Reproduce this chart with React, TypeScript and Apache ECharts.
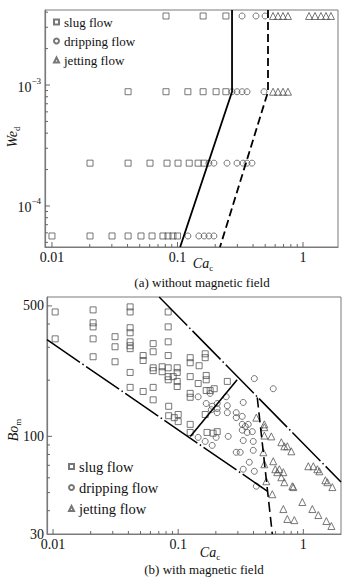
import React, { useEffect, useRef } from 'react';
import * as echarts from 'echarts';

const SERIF = '"Liberation Serif", "Times New Roman", serif';
const MARK = '#555';
const AXIS = '#7a7a7a';

// ---------------- panel (a): without magnetic field ----------------
const aCaRange = [0.0088, 1.9];
const aWeRange = [4.58e-5, 4.17e-3];
const aWeRows = [3.72e-3, 8.8e-4, 2.26e-4, 5.65e-5];
const aSlugCa = [
  [0.081, 0.16, 0.243],
  [0.0404, 0.081, 0.121, 0.16, 0.203, 0.243],
  [0.0201, 0.0404, 0.0604, 0.0825, 0.101, 0.124, 0.146, 0.163],
  [0.01, 0.0201, 0.0301, 0.0404, 0.0512, 0.0627, 0.0766, 0.084, 0.092, 0.1],
];
const aDripCa = [
  [0.327, 0.422, 0.498],
  [0.272, 0.298, 0.327, 0.358, 0.489],
  [0.178, 0.195, 0.248, 0.298, 0.333, 0.358, 0.392],
  [0.121, 0.148, 0.163, 0.178, 0.195],
];
const aJetCa = [
  [0.577, 0.632, 0.693, 0.759, 1.117, 1.246, 1.39, 1.525, 1.67],
  [0.577, 0.632, 0.693, 0.759],
  [],
  [],
];
const aSolid = [[0.272, 4.17e-3], [0.272, 8.8e-4], [0.105, 4.58e-5]];
const aDashed = [[0.526, 4.17e-3], [0.526, 8.8e-4], [0.218, 4.58e-5]];

// ---------------- panel (b): with magnetic field ----------------
const bCaRange = [0.00895, 2.0];
const bBoRange = [30, 558];
const bSlug = [
  [0.0104, 464], [0.0104, 333],
  [0.0209, 476], [0.0209, 406], [0.0209, 386], [0.0209, 333], [0.0209, 267],
  [0.0313, 342], [0.0313, 302], [0.0313, 251],
  [0.0413, 494], [0.0413, 464], [0.0413, 382], [0.0413, 359], [0.0413, 321], [0.0413, 306], [0.0413, 295], [0.0413, 220], [0.0413, 183],
  [0.0525, 271], [0.0525, 255], [0.0525, 174],
  [0.0631, 314], [0.0631, 284], [0.0631, 233], [0.0631, 225], [0.0631, 183], [0.0631, 157],
  [0.0745, 236], [0.0745, 222],
  [0.0832, 464], [0.0832, 386], [0.0832, 321], [0.0832, 271], [0.0832, 233], [0.0832, 209], [0.0832, 201],
  [0.0912, 209],
  [0.0982, 233], [0.0982, 220], [0.0982, 197], [0.0982, 185],
  [0.084, 145], [0.084, 129], [0.093, 126], [0.1, 131], [0.1, 120],
  [0.1247, 264], [0.1247, 248], [0.1247, 209], [0.1247, 170], [0.1247, 162], [0.1247, 116], [0.1247, 105],
  [0.147, 239], [0.1445, 192],
  [0.1644, 277], [0.1644, 264], [0.1675, 212], [0.1675, 201], [0.1675, 176], [0.18, 176], [0.194, 180], [0.1644, 131],
  [0.247, 197],
  [0.17, 105], [0.19, 104], [0.205, 106],
];
const bDrip = [
  [0.406, 204], [0.575, 180], [0.331, 152], [0.242, 163], [0.18, 170], [0.1445, 163], [0.1675, 150], [0.187, 145],
  [0.205, 150], [0.205, 141], [0.205, 134], [0.184, 139],
  [0.247, 146], [0.247, 134], [0.291, 134], [0.291, 126], [0.325, 128],
  [0.325, 116], [0.344, 113], [0.363, 116], [0.325, 108], [0.356, 105], [0.391, 106],
  [0.1445, 98.8], [0.1644, 94], [0.187, 89.5], [0.201, 98.8], [0.251, 100],
  [0.331, 95], [0.398, 94], [0.291, 82.2], [0.313, 82.2], [0.398, 84.2], [0.37, 72.7], [0.331, 66.7], [0.406, 65], [0.421, 54.1],
];
const bJet = [
  [0.421, 126], [0.488, 116], [0.488, 112], [0.488, 101], [0.555, 100], [0.479, 82.2], [0.488, 70.9], [0.506, 57.5], [0.565, 49],
  [0.575, 73.6], [0.597, 66.7], [0.643, 66.7], [0.619, 64.3], [0.692, 64.3],
  [0.667, 93], [0.705, 88.5], [0.745, 88.5], [0.802, 83.2],
  [0.667, 60.4], [0.705, 56.8], [0.817, 54.1], [0.832, 53.5],
  [0.692, 40.8], [0.745, 36.1], [0.847, 35.6], [0.982, 44.5], [1.18, 40.8], [1.318, 37.9], [1.528, 35.2], [1.675, 33.1],
  [1.096, 69.2], [1.202, 69.2], [1.294, 66.7], [1.343, 65], [1.5, 58.2], [1.556, 56.8], [1.706, 53.5],
];
const bUpperChain = [[0.0705, 558], [2.0, 57]];
const bLowerChain = [[0.00895, 330], [0.515, 50.9]];
const bMiddleSolid = [[0.125, 100], [0.296, 201]];
const bDashed = [[0.4285, 161.5], [0.565, 30]];

// ---------------- ticks ----------------
const caMajor = [0.01, 0.1, 1];
const caMinor = [0.02, 0.03, 0.04, 0.05, 0.06, 0.07, 0.08, 0.09, 0.2, 0.3, 0.4, 0.5, 0.6, 0.7, 0.8, 0.9];
const weMajor = [1e-4, 1e-3];
const weMinor = [5e-5, 6e-5, 7e-5, 8e-5, 9e-5, 2e-4, 3e-4, 4e-4, 5e-4, 6e-4, 7e-4, 8e-4, 9e-4, 2e-3, 3e-3, 4e-3];
const boMajor = [100, 500];
const boMinor = [40, 50, 60, 70, 80, 90, 200, 300, 400];
const boExtraLabels = [500];

const legendNames = ['slug flow', 'dripping flow', 'jetting flow'];

const rowsToPairs = (rows: number[][]) =>
  rows.flatMap((r, i) => r.map((ca) => [ca, aWeRows[i]]));

const powExp = (v: number) => {
  const l = Math.log10(v);
  const e = Math.round(l);
  return Math.abs(l - e) < 1e-6 ? e : null;
};

const markerStyle = { color: 'rgba(0,0,0,0)', borderColor: MARK, borderWidth: 1 };

function scatter(name: string, idx: number, data: number[][], symbol: string, size: number) {
  return {
    type: 'scatter', name, xAxisIndex: idx, yAxisIndex: idx, data, symbol, symbolSize: size,
    itemStyle: markerStyle, silent: true, z: 3,
  };
}

function line(idx: number, data: number[][], type: any, width = 1.6) {
  return {
    type: 'line', xAxisIndex: idx, yAxisIndex: idx, data, symbol: 'none', silent: true,
    lineStyle: { color: '#000', width, type }, z: 4, clip: true,
  };
}

function ticks(idx: number, dir: 'x' | 'y', vals: number[], other: number, len: number) {
  return {
    type: 'custom', xAxisIndex: idx, yAxisIndex: idx, silent: true, z: 5,
    data: vals.map((v) => (dir === 'x' ? [v, other] : [other, v])),
    renderItem: (params: any, api: any) => {
      const cs = params.coordSys;
      const p = api.coord([api.value(0), api.value(1)]);
      const shape = dir === 'x'
        ? { x1: p[0], y1: cs.y + cs.height, x2: p[0], y2: cs.y + cs.height - len }
        : { x1: cs.x, y1: p[1], x2: cs.x + len, y2: p[1] };
      return { type: 'line', shape, style: { stroke: '#666', lineWidth: 1 } };
    },
  };
}

const labelBase = { fontFamily: SERIF, fontSize: 14, color: '#111' };

const subRich = {
  i: { fontFamily: SERIF, fontStyle: 'italic', fontSize: 14, lineHeight: 16, verticalAlign: 'top', fill: '#111' },
  s: { fontFamily: SERIF, fontSize: 9, lineHeight: 9, verticalAlign: 'bottom', fill: '#111' },
};

function App() {
  const ref = useRef<HTMLDivElement>(null);
  useEffect(() => {
    if (!ref.current) return;
    const chart = echarts.init(ref.current, undefined, { renderer: 'svg' });
    const caFmt = (v: number) => (powExp(v) !== null ? String(+v.toPrecision(1)) : '');
    const weFmt = (v: number) => {
      const e = powExp(v);
      return e === null ? '' : `{b|10}{s|${e < 0 ? '−' : ''}${Math.abs(e)}}`;
    };
    const boFmt = (v: number) => (powExp(v) !== null || Math.abs(v - bBoRange[0]) < 1e-6 ? String(Math.round(v)) : '');
    const xAxisCommon = {
      type: 'log', logBase: 10,
      axisLine: { show: true, lineStyle: { color: AXIS, width: 1.2 } },
      axisTick: { show: false }, splitLine: { show: false },
    };
    const option: any = {
      animation: false,
      backgroundColor: '#fff',
      grid: [
        { left: 45, top: 10, width: 293, height: 237, show: true, borderColor: AXIS, borderWidth: 1, backgroundColor: 'transparent' },
        { left: 47, top: 297, width: 294, height: 237, show: true, borderColor: AXIS, borderWidth: 1, backgroundColor: 'transparent' },
      ],
      xAxis: [
        { ...xAxisCommon, gridIndex: 0, min: aCaRange[0], max: aCaRange[1],
          axisLabel: { ...labelBase, margin: 3, formatter: caFmt, showMinLabel: false, showMaxLabel: false } },
        { ...xAxisCommon, gridIndex: 1, min: bCaRange[0], max: bCaRange[1],
          axisLabel: { ...labelBase, margin: 3, formatter: caFmt, showMinLabel: false, showMaxLabel: false } },
      ],
      yAxis: [
        { ...xAxisCommon, gridIndex: 0, min: aWeRange[0], max: aWeRange[1],
          axisLabel: { ...labelBase, margin: 4, formatter: weFmt, showMinLabel: false, showMaxLabel: false,
            rich: {
              b: { fontFamily: SERIF, fontSize: 14, color: '#111', lineHeight: 18, verticalAlign: 'bottom' },
              s: { fontFamily: SERIF, fontSize: 9, color: '#111', lineHeight: 10, verticalAlign: 'top' },
            } } },
        { ...xAxisCommon, gridIndex: 1, min: bBoRange[0], max: bBoRange[1],
          axisLabel: { ...labelBase, margin: 3, formatter: boFmt, showMinLabel: true, showMaxLabel: false } },
      ],
      legend: [
        { orient: 'vertical', left: 53, top: 15, padding: 0, itemWidth: 5, itemHeight: 5, itemGap: 5,
          selectedMode: false, data: legendNames,
          textStyle: { fontFamily: SERIF, fontSize: 13, color: '#111', lineHeight: 14 } },
        { orient: 'vertical', left: 68, top: 459, padding: 0, itemWidth: 5, itemHeight: 5, itemGap: 6,
          selectedMode: false, data: legendNames,
          textStyle: { fontFamily: SERIF, fontSize: 14.5, color: '#111', lineHeight: 15 } },
      ],
      graphic: [
        { type: 'text', x: 13, y: 137, rotation: Math.PI / 2,
          style: { text: '{i|We}{s|d}', align: 'center', verticalAlign: 'middle', rich: subRich } },
        { type: 'text', x: 203, y: 264,
          style: { text: '{i|Ca}{s|c}', align: 'center', verticalAlign: 'middle', rich: subRich } },
        { type: 'text', x: 202, y: 282,
          style: { text: '(a) without magnetic field', align: 'center', verticalAlign: 'middle', fontFamily: SERIF, fontSize: 13, fill: '#111' } },
        { type: 'text', x: 14, y: 430, rotation: Math.PI / 2,
          style: { text: '{i|Bo}{s|m}', align: 'center', verticalAlign: 'middle', rich: subRich } },
        { type: 'text', x: 210, y: 553,
          style: { text: '{i|Ca}{s|c}', align: 'center', verticalAlign: 'middle', rich: subRich } },
        { type: 'text', x: 204, y: 569.5,
          style: { text: '(b) with magnetic field', align: 'center', verticalAlign: 'middle', fontFamily: SERIF, fontSize: 13, fill: '#111' } },
      ],
      series: [
        scatter('slug flow', 0, rowsToPairs(aSlugCa), 'rect', 6),
        scatter('dripping flow', 0, rowsToPairs(aDripCa), 'circle', 6),
        scatter('jetting flow', 0, rowsToPairs(aJetCa), 'triangle', 7),
        line(0, aSolid, 'solid', 1.8),
        line(0, aDashed, [8, 4], 1.8),
        scatter('slug flow', 1, bSlug, 'rect', 6),
        scatter('dripping flow', 1, bDrip, 'circle', 6),
        scatter('jetting flow', 1, bJet, 'triangle', 7),
        line(1, bUpperChain, [40, 3, 1.5, 3], 1.5),
        line(1, bLowerChain, [40, 3, 1.5, 3], 1.5),
        line(1, bMiddleSolid, 'solid', 1.6),
        line(1, bDashed, [10, 5], 1.6),
        ticks(0, 'x', caMajor, aWeRange[0] * 2, 5),
        ticks(0, 'x', caMinor, aWeRange[0] * 2, 3),
        ticks(0, 'y', weMajor, aCaRange[0] * 2, 5),
        ticks(0, 'y', weMinor, aCaRange[0] * 2, 3),
        ticks(1, 'x', caMajor, bBoRange[0] * 2, 5),
        ticks(1, 'x', caMinor, bBoRange[0] * 2, 3),
        ticks(1, 'y', boMajor, bCaRange[0] * 2, 5),
        ticks(1, 'y', boMinor, bCaRange[0] * 2, 3),
        {
          type: 'custom', xAxisIndex: 1, yAxisIndex: 1, silent: true, z: 5,
          data: boExtraLabels.map((v) => [bCaRange[0] * 2, v]),
          renderItem: (params: any, api: any) => {
            const cs = params.coordSys;
            const p = api.coord([api.value(0), api.value(1)]);
            return {
              type: 'text', x: cs.x - 3, y: p[1],
              style: { text: String(api.value(1)), align: 'right', verticalAlign: 'middle',
                fontFamily: SERIF, fontSize: 14, fill: '#111' },
            };
          },
        },
      ],
    };
    chart.setOption(option);
    return () => chart.dispose();
  }, []);
  return (
    <div ref={ref} style={{ position: 'fixed', left: 0, top: 0, width: 357, height: 577, background: '#fff' }} />
  );
}

export default App;
